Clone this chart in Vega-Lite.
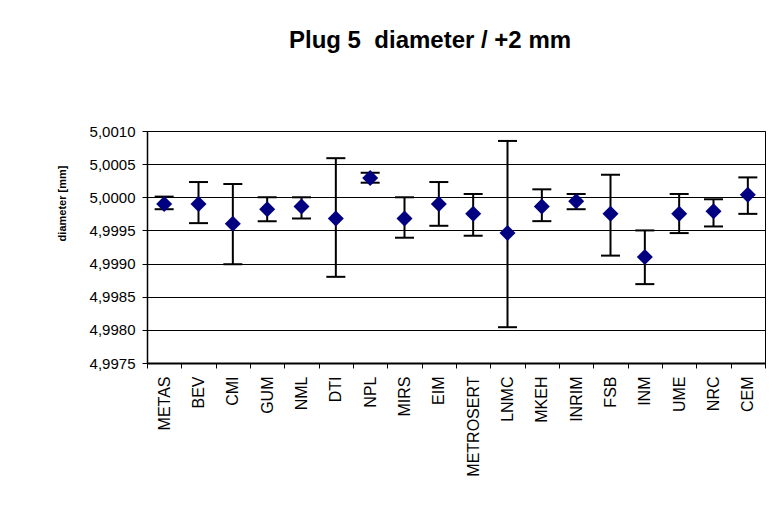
{
  "$schema": "https://vega.github.io/schema/vega-lite/v6.json",
  "autosize": "none",
  "width": 618,
  "height": 232,
  "padding": {"left": 147, "top": 131, "right": 17, "bottom": 151},
  "background": "white",
  "title": {
    "text": "Plug 5 \u00a0diameter / +2 mm",
    "font": "Liberation Sans",
    "fontSize": 24,
    "fontWeight": "bold",
    "color": "black",
    "anchor": "middle",
    "frame": "group",
    "dx": -26,
    "offset": 52,
    "baseline": "alphabetic"
  },
  "data": {
    "values": [
      {"lab": "METAS", "v": 4.99990, "lo": 4.99982, "hi": 5.00001},
      {"lab": "BEV", "v": 4.99990, "lo": 4.99961, "hi": 5.00023},
      {"lab": "CMI", "v": 4.99960, "lo": 4.99899, "hi": 5.00020},
      {"lab": "GUM", "v": 4.99982, "lo": 4.99964, "hi": 5.00000},
      {"lab": "NML", "v": 4.99986, "lo": 4.99968, "hi": 5.00000},
      {"lab": "DTI", "v": 4.99968, "lo": 4.99880, "hi": 5.00059},
      {"lab": "NPL", "v": 5.00029, "lo": 5.00022, "hi": 5.00037},
      {"lab": "MIRS", "v": 4.99968, "lo": 4.99939, "hi": 5.00000},
      {"lab": "EIM", "v": 4.99990, "lo": 4.99957, "hi": 5.00023},
      {"lab": "METROSERT", "v": 4.99975, "lo": 4.99942, "hi": 5.00005},
      {"lab": "LNMC", "v": 4.99946, "lo": 4.99804, "hi": 5.00085},
      {"lab": "MKEH", "v": 4.99986, "lo": 4.99964, "hi": 5.00012},
      {"lab": "INRIM", "v": 4.99994, "lo": 4.99982, "hi": 5.00005},
      {"lab": "FSB", "v": 4.99975, "lo": 4.99912, "hi": 5.00034},
      {"lab": "INM", "v": 4.99910, "lo": 4.99869, "hi": 4.99950},
      {"lab": "UME", "v": 4.99975, "lo": 4.99946, "hi": 5.00005},
      {"lab": "NRC", "v": 4.99979, "lo": 4.99956, "hi": 4.99997},
      {"lab": "CEM", "v": 5.00004, "lo": 4.99975, "hi": 5.00030}
    ]
  },
  "encoding": {
    "x": {
      "field": "lab",
      "type": "nominal",
      "sort": null,
      "title": null,
      "scale": {"paddingInner": 0, "paddingOuter": 0},
      "axis": {
        "labelAngle": -90,
        "labelAlign": "right",
        "labelBaseline": "middle",
        "labelFont": "Liberation Sans",
        "labelFontSize": 16,
        "labelColor": "black",
        "labelPadding": 8,
        "tickBand": "extent",
        "tickSize": 5,
        "tickColor": "black",
        "domainColor": "black",
        "domainWidth": 2,
        "grid": false
      }
    }
  },
  "layer": [
    {
      "mark": {"type": "rule", "strokeWidth": 2, "color": "black"},
      "encoding": {
        "y": {
          "field": "lo",
          "type": "quantitative",
          "title": "diameter [mm]",
          "scale": {"domain": [4.9975, 5.0010], "zero": false, "nice": false},
          "axis": {
            "values": [4.9975, 4.998, 4.9985, 4.999, 4.9995, 5.0, 5.0005, 5.001],
            "tickCount": 20,
            "labelOverlap": false,
            "labelExpr": "replace(format(datum.value, '.4f'), '.', ',')"
          }
        },
        "y2": {"field": "hi"}
      }
    },
    {
      "mark": {"type": "tick", "size": 19, "thickness": 2, "color": "black", "opacity": 1},
      "encoding": {"y": {"field": "lo", "type": "quantitative", "title": "diameter [mm]"}}
    },
    {
      "mark": {"type": "tick", "size": 19, "thickness": 2, "color": "black", "opacity": 1},
      "encoding": {"y": {"field": "hi", "type": "quantitative", "title": "diameter [mm]"}}
    },
    {
      "mark": {"type": "point", "shape": "diamond", "filled": true, "size": 256, "color": "#000080", "opacity": 1},
      "encoding": {"y": {"field": "v", "type": "quantitative", "title": "diameter [mm]"}}
    }
  ],
  "config": {
    "view": {"stroke": "black", "strokeWidth": 1},
    "axisY": {
      "labelFont": "Liberation Sans",
      "labelFontSize": 15,
      "labelColor": "black",
      "labelPadding": 7,
      "tickSize": 5,
      "tickColor": "black",
      "domainColor": "black",
      "domainWidth": 1.5,
      "grid": true,
      "gridColor": "black",
      "gridWidth": 1,
      "titleFont": "Liberation Sans",
      "titleFontSize": 11,
      "titleFontWeight": "bold",
      "titleColor": "black",
      "titleAngle": 270,
      "titleAlign": "center",
      "titleBaseline": "bottom",
      "titleX": -80,
      "titleY": 72
    }
  }
}
